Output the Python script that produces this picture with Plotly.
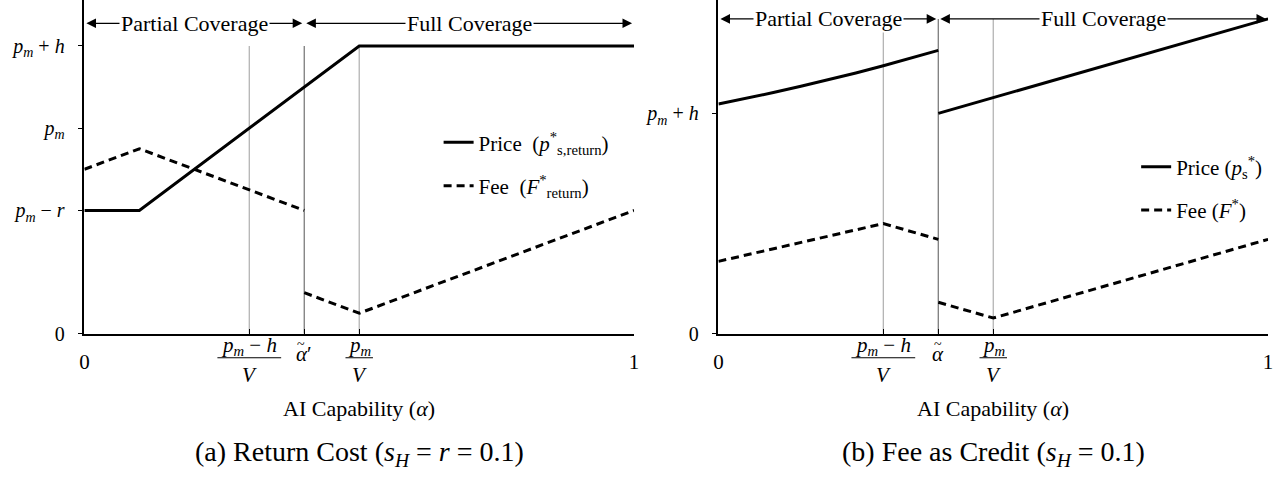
import plotly.graph_objects as go

# ---------------- data ----------------
# Panel (a): Return cost
alpha_a_price = [0.0, 0.1, 0.5, 1.0]
price_a = [0.30, 0.30, 0.70, 0.70]
alpha_a_fee = [0.0, 0.1, 0.4, None, 0.4, 0.5, 1.0]
fee_a = [0.40, 0.45, 0.30, None, 0.10, 0.05, 0.30]

# Panel (b): Fee as credit
alpha_b_price = [0.0, 0.05, 0.1, 0.15, 0.2, 0.25, 0.3, 0.35, 0.4, None, 0.4, 1.0]
price_b = [0.730, 0.747, 0.766, 0.786, 0.806, 0.828, 0.851, 0.875, 0.900, None, 0.700, 1.000]
alpha_b_fee = [0.0, 0.3, 0.4, None, 0.4, 0.5, 1.0]
fee_b = [0.23, 0.35, 0.30, None, 0.10, 0.05, 0.30]

# threshold lines (p_m-h)/V, alpha-tilde, p_m/V
thresholds = [0.3, 0.4, 0.5]
vline_top_a = [0.70, 0.70, 0.70]
vline_top_b = [0.96, 1.00, 1.00]
vline_colors = ["#b4b4b4", "#7c7c7c", "#b4b4b4"]

# y ticks
ytick_vals_a = [0.0, 0.3, 0.5, 0.7]
ytick_text_a = ["0", "<i>p<sub>m</sub></i> − <i>r</i>", "<i>p<sub>m</sub></i>", "<i>p<sub>m</sub></i> + <i>h</i>"]
ytick_vals_b = [0.0, 0.7]
ytick_text_b = ["0", "<i>p<sub>m</sub></i> + <i>h</i>"]

# x ticks
xtick_vals = [0.0, 0.3, 0.4, 0.5, 1.0]
xtick_text = ["0", "", "", "", "1"]
alpha_tilde_text_a = "<i>α</i>′"
alpha_tilde_text_b = "<i>α</i>"

# coverage regions: (label, start, end, text centre)
regions = [("Partial Coverage", 0.0, 0.4, 0.2), ("Full Coverage", 0.4, 1.0, 0.7)]
arrow_level_a = 0.755
arrow_level_b = 1.0

FONT = "Liberation Serif, DejaVu Serif, serif"
W, H = 1288, 488
BLACK = "black"

fig = go.Figure()

fig.add_trace(go.Scatter(x=alpha_a_price, y=price_a, mode="lines", xaxis="x", yaxis="y",
                         line=dict(color=BLACK, width=3),
                         name="Price  (<i>p</i><sup>*</sup><sub>s,return</sub>)",
                         legend="legend", legendgroup="a1"))
fig.add_trace(go.Scatter(x=alpha_a_fee, y=fee_a, mode="lines", xaxis="x", yaxis="y",
                         line=dict(color=BLACK, width=3, dash="8px,5px"), connectgaps=False,
                         name="Fee  (<i>F</i><sup>*</sup><sub>return</sub>)",
                         legend="legend", legendgroup="a2"))
fig.add_trace(go.Scatter(x=alpha_b_price, y=price_b, mode="lines", xaxis="x2", yaxis="y2",
                         line=dict(color=BLACK, width=3), connectgaps=False,
                         name="Price (<i>p</i><sub>s</sub><sup>*</sup>)",
                         legend="legend2", legendgroup="b1"))
fig.add_trace(go.Scatter(x=alpha_b_fee, y=fee_b, mode="lines", xaxis="x2", yaxis="y2",
                         line=dict(color=BLACK, width=3, dash="8px,5px"), connectgaps=False,
                         name="Fee (<i>F</i><sup>*</sup>)",
                         legend="legend2", legendgroup="b2"))

shapes = []
for xr, yr, tops in (("x", "y", vline_top_a), ("x2", "y2", vline_top_b)):
    for t, top, c in zip(thresholds, tops, vline_colors):
        shapes.append(dict(type="line", xref=xr, yref=yr, x0=t, x1=t, y0=0, y1=top,
                           line=dict(color=c, width=1.3), layer="below"))

annotations = []
# coverage arrows
for xr, yr, lvl in (("x", "y", arrow_level_a), ("x2", "y2", arrow_level_b)):
    for label, s, e, c in regions:
        for end in (s, e):
            annotations.append(dict(x=end, y=lvl, ax=c, ay=lvl, xref=xr, yref=yr,
                                    axref=xr, ayref=yr, text="", showarrow=True,
                                    arrowhead=2, arrowsize=1.6, arrowwidth=1.2,
                                    arrowcolor=BLACK, standoff=2))
    for label, s, e, c in regions:
        annotations.append(dict(x=c, y=lvl, xref=xr, yref=yr, text=label, showarrow=False,
                                xanchor="center", bgcolor="white", borderpad=1,
                                font=dict(family=FONT, size=22, color=BLACK)))

# fraction tick labels and alpha-tilde labels
num_y = (H - 354) / H
bar_y = (H - 366) / H
den_y = (H - 384) / H
alpha_y = (H - 362) / H
tilde_y = (H - 352) / H
fractions = [(thresholds[0], "<i>p<sub>m</sub></i> − <i>h</i>", 0.058),
             (thresholds[2], "<i>p<sub>m</sub></i>", 0.025)]
for xr, atext, ashift in (("x", alpha_tilde_text_a, -3), ("x2", alpha_tilde_text_b, 0)):
    for xv, num, half in fractions:
        annotations.append(dict(x=xv, y=num_y, xref=xr, yref="paper", text=num, showarrow=False,
                                xanchor="center", yanchor="middle",
                                font=dict(family=FONT, size=21, color=BLACK)))
        annotations.append(dict(x=xv, y=den_y, xref=xr, yref="paper", text="<i>V</i>", showarrow=False,
                                xanchor="center", yanchor="middle",
                                font=dict(family=FONT, size=21, color=BLACK)))
        shapes.append(dict(type="line", xref=xr, yref="paper", x0=xv - half, x1=xv + half,
                           y0=bar_y, y1=bar_y, line=dict(color=BLACK, width=1)))
    annotations.append(dict(x=thresholds[1], y=alpha_y, xref=xr, yref="paper", text=atext,
                            showarrow=False, xanchor="center", yanchor="middle",
                            font=dict(family=FONT, size=21, color=BLACK)))
    annotations.append(dict(x=thresholds[1], y=tilde_y, xref=xr, yref="paper", text="~",
                            showarrow=False, xanchor="center", yanchor="middle", xshift=ashift,
                            font=dict(family=FONT, size=14, color=BLACK)))

dom_a = [80 / W, 634 / W]
dom_b = [719 / W, 1273 / W]
ydom = [(H - 341.5) / H, 1.0]

# axis titles and captions
for dom, cap in ((dom_a, "(a) Return Cost (<i>s<sub>H</sub></i> = <i>r</i> = 0.1)"),
                 (dom_b, "(b) Fee as Credit (<i>s<sub>H</sub></i> = 0.1)")):
    xc = (dom[0] + dom[1]) / 2
    annotations.append(dict(x=xc, y=(H - 418) / H, xref="paper", yref="paper",
                            text="AI Capability (<i>α</i>)", showarrow=False,
                            xanchor="center", yanchor="middle",
                            font=dict(family=FONT, size=22, color=BLACK)))
    annotations.append(dict(x=xc, y=(H - 464) / H, xref="paper", yref="paper",
                            text=cap, showarrow=False, xanchor="center", yanchor="middle",
                            font=dict(family=FONT, size=28, color=BLACK)))

xaxis_common = dict(range=[0, 1], showline=True, linecolor=BLACK, linewidth=1.5,
                    showgrid=False, zeroline=False, ticks="inside", ticklen=5, tickwidth=1.2,
                    tickcolor=BLACK, tickvals=xtick_vals, ticktext=xtick_text, ticklabelstandoff=8,
                    tickfont=dict(family=FONT, size=21, color=BLACK), fixedrange=True)
yaxis_common = dict(showline=True, linecolor=BLACK, linewidth=1.5, showgrid=False,
                    zeroline=False, ticks="outside", ticklen=5, tickwidth=1.2, tickcolor=BLACK,
                    ticklabelstandoff=9, tickfont=dict(family=FONT, size=20, color=BLACK),
                    domain=ydom)

fig.update_layout(
    width=W, height=H, margin=dict(l=0, r=0, t=0, b=0),
    paper_bgcolor="white", plot_bgcolor="white",
    font=dict(family=FONT, color=BLACK),
    xaxis=dict(xaxis_common, domain=dom_a, anchor="y"),
    yaxis=dict(yaxis_common, anchor="x", range=[0, 0.8117], tickvals=ytick_vals_a, ticktext=ytick_text_a),
    xaxis2=dict(xaxis_common, domain=dom_b, anchor="y2"),
    yaxis2=dict(yaxis_common, anchor="x2", range=[0, 1.06], tickvals=ytick_vals_b, ticktext=ytick_text_b),
    legend=dict(x=437 / W, y=(H - 168) / H, xanchor="left", yanchor="middle",
                bgcolor="rgba(0,0,0,0)", tracegroupgap=13,
                font=dict(family=FONT, size=21, color=BLACK)),
    legend2=dict(x=1140 / W, y=(H - 193) / H, xanchor="left", yanchor="middle",
                 bgcolor="rgba(0,0,0,0)", tracegroupgap=13,
                 font=dict(family=FONT, size=21, color=BLACK)),
    shapes=shapes, annotations=annotations,
)

fig.write_html("out.html")
